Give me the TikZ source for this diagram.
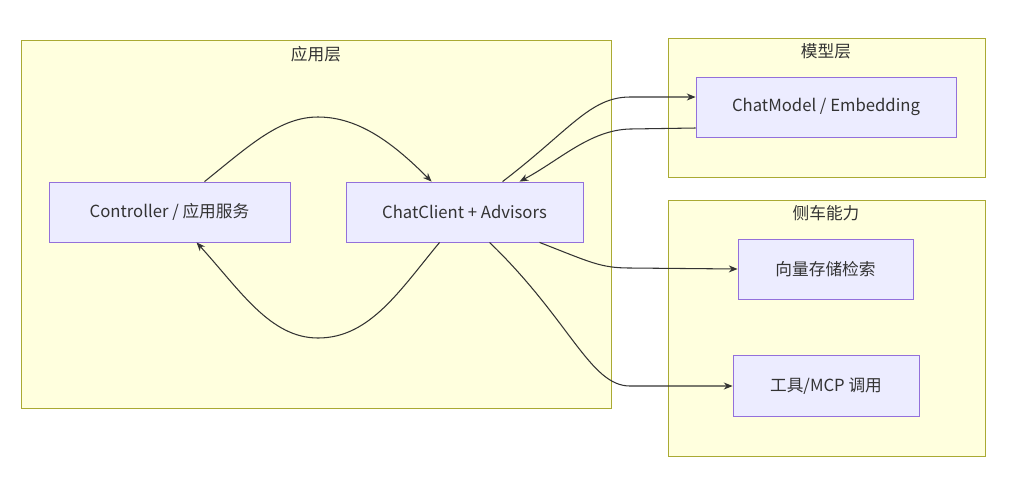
\documentclass[tikz,border=0pt]{standalone}
\usepackage{fontspec}
\setmainfont{Noto Sans CJK SC}
\usetikzlibrary{positioning, arrows.meta}
\definecolor{clfill}{HTML}{FFFFDE}
\definecolor{cldraw}{HTML}{AAAA33}
\definecolor{ndfill}{HTML}{ECECFF}
\definecolor{nddraw}{HTML}{9370DB}
\definecolor{edge}{HTML}{333333}
\begin{document}
\begin{tikzpicture}[
        x=0.02cm, y=-0.02cm,
        font=\fontsize{9.5}{11}\selectfont,
        cluster/.style={draw=cldraw, fill=clfill, line width=0.5pt},
        box/.style={
            rectangle, draw=nddraw, fill=ndfill, line width=0.5pt,
            inner sep=0pt, align=center, text=edge
        },
        arrow/.style={-{Stealth[length=5pt,width=4pt]}, draw=edge, line width=0.6pt}
    ]
        \useasboundingbox (0,0) rectangle (1020,481);

        % Clusters
        \draw[cluster] (21,40) rectangle (611,408);
        \draw[cluster] (668,38) rectangle (985,177);
        \draw[cluster] (668,200) rectangle (985,456);
        \node[text=edge] (tapp) at (316,54) {应用层};
        \node[text=edge] (tmod) at (826,51) {模型层};
        \node[text=edge] (tside) at (826,213) {侧车能力};

        % Nodes
        \node[box, minimum width=4.82cm, minimum height=1.2cm] (ctrl) at (169.5,212) {Controller / 应用服务};
        \node[box, minimum width=4.74cm, minimum height=1.2cm] (chat) at (464.5,212) {ChatClient + Advisors};
        \node[box, minimum width=5.2cm, minimum height=1.2cm] (model) at (826,107) {ChatModel / Embedding};
        \node[box, minimum width=3.5cm, minimum height=1.2cm] (vec) at (825.5,269) {向量存储检索};
        \node[box, minimum width=3.72cm, minimum height=1.22cm] (tool) at (826,386) {工具/MCP 调用};

        % Edges
        \draw[arrow] ([xshift=3.12cm]ctrl.north west) .. controls (250,145) and (280,117) .. (318,117) .. controls (360,117) and (395,145) .. ([xshift=1.72cm]chat.north west);
        \draw[arrow] ([xshift=1.88cm]chat.south west) .. controls (400,290) and (370,338) .. (318,338) .. controls (270,338) and (240,290) .. ([xshift=2.96cm]ctrl.south west);
        \draw[arrow] ([xshift=3.14cm]chat.north west) .. controls (570,130) and (590,97) .. (630,97) -- ([yshift=0.2cm]model.west);
        \draw[arrow] ([yshift=-0.42cm]model.west) -- (630,129) .. controls (590,130) and (560,160) .. ([xshift=3.48cm]chat.north west);
        \draw[arrow] ([xshift=3.88cm]chat.south west) .. controls (590,262) and (600,268) .. (630,268) -- (vec.west);
        \draw[arrow] ([xshift=2.88cm]chat.south west) .. controls (570,320) and (590,386) .. (630,386) -- (tool.west);
    \end{tikzpicture}
\end{document}
